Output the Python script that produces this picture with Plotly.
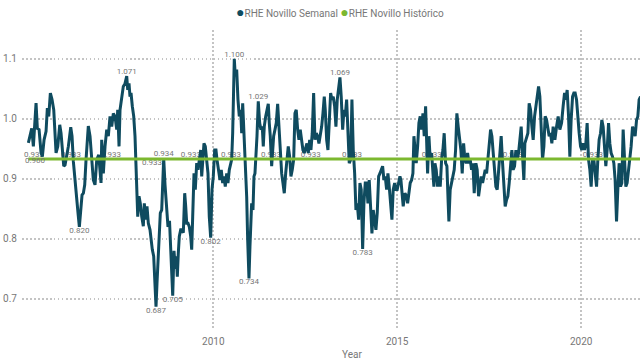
import plotly.graph_objects as go

# ---- data ----
years = [
    2004.973, 2005.065, 2005.109, 2005.182, 2005.217, 2005.264, 2005.318, 2005.353, 2005.400, 2005.454,
    2005.489, 2005.527, 2005.571, 2005.617, 2005.663, 2005.698, 2005.726, 2005.772, 2005.826, 2005.861,
    2005.897, 2005.935, 2005.970, 2006.016, 2006.060, 2006.125, 2006.160, 2006.196, 2006.242, 2006.288,
    2006.323, 2006.359, 2006.397, 2006.432, 2006.468, 2006.505, 2006.541, 2006.603, 2006.649, 2006.696,
    2006.739, 2006.785, 2006.832, 2006.886, 2006.921,
    2006.948, 2006.967, 2007.011, 2007.057, 2007.103, 2007.147, 2007.193, 2007.239, 2007.283, 2007.329,
    2007.375, 2007.402, 2007.438, 2007.465, 2007.511, 2007.554, 2007.601, 2007.647, 2007.674, 2007.709,
    2007.736, 2007.764, 2007.799, 2007.837, 2007.872, 2007.899, 2007.927, 2007.946, 2007.981, 2008.016,
    2008.055, 2008.098, 2008.125, 2008.163, 2008.198, 2008.234, 2008.280, 2008.307, 2008.342, 2008.380,
    2008.416, 2008.443, 2008.470, 2008.505, 2008.533, 2008.560, 2008.598, 2008.625, 2008.652, 2008.688,
    2008.728, 2008.769, 2008.810, 2008.851, 2008.897, 2008.932, 2008.967, 2008.995, 2009.022, 2009.049,
    2009.076, 2009.114, 2009.149, 2009.185, 2009.223, 2009.250, 2009.277, 2009.313, 2009.348, 2009.386,
    2009.413, 2009.440, 2009.476, 2009.511, 2009.549, 2009.584, 2009.620, 2009.658, 2009.685, 2009.712,
    2009.747, 2009.783, 2009.821, 2009.856, 2009.891, 2009.929, 2009.965, 2010.000, 2010.038, 2010.073,
    2010.101, 2010.128, 2010.155, 2010.182, 2010.217, 2010.255, 2010.291, 2010.326, 2010.364, 2010.399,
    2010.435, 2010.473, 2010.500, 2010.527, 2010.543, 2010.571, 2010.598, 2010.636, 2010.671, 2010.707,
    2010.745, 2010.772, 2010.799, 2010.834, 2010.870, 2010.908, 2010.935, 2010.970, 2010.997, 2011.025,
    2011.043, 2011.079, 2011.106, 2011.133, 2011.160, 2011.188, 2011.223, 2011.261, 2011.296, 2011.332,
    2011.359, 2011.386, 2011.424, 2011.459, 2011.495, 2011.522, 2011.549, 2011.587, 2011.614, 2011.641,
    2011.677, 2011.712, 2011.750, 2011.785, 2011.821, 2011.859, 2011.894, 2011.930, 2011.968, 2012.003,
    2012.038, 2012.076, 2012.111, 2012.147, 2012.185, 2012.220, 2012.255, 2012.293, 2012.329, 2012.364,
    2012.402, 2012.437, 2012.473, 2012.511, 2012.546, 2012.582, 2012.620, 2012.655, 2012.690, 2012.728,
    2012.764, 2012.799, 2012.837, 2012.872, 2012.908, 2012.946, 2012.981, 2013.017, 2013.044, 2013.082,
    2013.117, 2013.152, 2013.190, 2013.226, 2013.261, 2013.299, 2013.334, 2013.370, 2013.408, 2013.443,
    2013.478, 2013.517, 2013.552, 2013.587, 2013.625, 2013.661, 2013.696, 2013.734, 2013.769, 2013.805,
    2013.843, 2013.878, 2013.913, 2013.951, 2013.987, 2014.022, 2014.060, 2014.095, 2014.131, 2014.169,
    2014.204, 2014.239, 2014.277, 2014.313, 2014.348, 2014.386, 2014.421, 2014.457, 2014.495, 2014.530,
    2014.565, 2014.603, 2014.639, 2014.674, 2014.712, 2014.747, 2014.783, 2014.821, 2014.856, 2014.891,
    2014.930, 2014.965, 2015.000, 2015.038, 2015.074, 2015.101, 2015.136, 2015.163, 2015.209, 2015.256,
    2015.283, 2015.318, 2015.353, 2015.392, 2015.427, 2015.454, 2015.481, 2015.517, 2015.555, 2015.590,
    2015.625, 2015.663, 2015.699, 2015.734, 2015.772, 2015.807, 2015.826, 2015.862, 2015.897, 2015.935,
    2015.970, 2015.997, 2016.025, 2016.060, 2016.098, 2016.133, 2016.169, 2016.207, 2016.242, 2016.277,
    2016.315, 2016.351, 2016.386, 2016.405, 2016.440, 2016.478, 2016.514, 2016.549, 2016.587, 2016.622,
    2016.658, 2016.696, 2016.731, 2016.767, 2016.805, 2016.840, 2016.875, 2016.913, 2016.949, 2016.984,
    2017.022, 2017.057, 2017.093, 2017.139, 2017.174, 2017.212, 2017.247, 2017.283, 2017.321, 2017.356,
    2017.392, 2017.430, 2017.465, 2017.500, 2017.538, 2017.574, 2017.609, 2017.647, 2017.682, 2017.718,
    2017.756, 2017.791, 2017.826, 2017.864, 2017.900, 2017.935, 2017.973, 2018.008, 2018.044, 2018.082,
    2018.117, 2018.152, 2018.190, 2018.226, 2018.261, 2018.299, 2018.334, 2018.370, 2018.408, 2018.443,
    2018.470, 2018.516, 2018.552, 2018.587, 2018.625, 2018.661, 2018.696, 2018.734, 2018.769, 2018.805,
    2018.843, 2018.878, 2018.913, 2018.951, 2018.987, 2019.022, 2019.060, 2019.095, 2019.131, 2019.169,
    2019.204, 2019.239, 2019.286, 2019.332, 2019.375, 2019.421, 2019.468, 2019.511, 2019.549, 2019.584,
    2019.620, 2019.658, 2019.693, 2019.728, 2019.767, 2019.802, 2019.837, 2019.875, 2019.911, 2019.946,
    2019.984, 2020.019, 2020.055, 2020.093, 2020.128, 2020.163, 2020.201, 2020.237, 2020.272, 2020.310,
    2020.345, 2020.381, 2020.419, 2020.454, 2020.489, 2020.527, 2020.563, 2020.598, 2020.636, 2020.671,
    2020.707, 2020.745, 2020.780, 2020.815, 2020.853, 2020.889, 2020.924, 2020.962, 2020.997, 2021.033,
    2021.071, 2021.106, 2021.142, 2021.180, 2021.215, 2021.250, 2021.288, 2021.324, 2021.359, 2021.397,
    2021.432, 2021.468, 2021.506, 2021.541, 2021.576, 2021.614,
]

semanal = [
    0.960, 0.984, 0.954, 1.026, 0.984, 0.982, 0.943, 0.937, 0.965, 0.979,
    1.018, 1.004, 1.043, 1.032, 1.015, 0.982, 0.943, 0.954, 0.990, 0.976,
    0.943, 0.921, 0.923, 0.937, 0.954, 0.986, 0.971, 0.929, 0.901, 0.876,
    0.843, 0.820, 0.854, 0.873, 0.876, 0.890, 0.932, 0.988, 0.971, 0.926,
    0.898, 0.890, 0.932, 0.940, 0.909,
    0.893, 0.965, 0.909, 0.954, 0.982, 0.971, 1.004, 0.987, 1.009, 1.004,
    0.982, 1.015, 0.954, 1.015, 1.032, 1.054, 1.059, 1.071, 1.048, 1.059,
    1.037, 1.043, 1.021, 1.004, 0.971, 0.932, 0.882, 0.837, 0.871, 0.859,
    0.837, 0.821, 0.859, 0.832, 0.854, 0.826, 0.815, 0.798, 0.782, 0.771,
    0.726, 0.687, 0.726, 0.771, 0.821, 0.843, 0.848, 0.893, 0.934, 0.890,
    0.845, 0.820, 0.830, 0.780, 0.705, 0.780, 0.750, 0.771, 0.737, 0.776,
    0.804, 0.815, 0.815, 0.810, 0.876, 0.854, 0.826, 0.826, 0.820, 0.804,
    0.782, 0.837, 0.909, 0.882, 0.926, 0.915, 0.932, 0.948, 0.904, 0.926,
    0.959, 0.954, 0.932, 0.909, 0.837, 0.802, 0.882, 0.904, 0.948, 0.948,
    0.932, 0.921, 0.915, 0.898, 0.915, 0.893, 0.904, 0.887, 0.909, 0.893,
    0.915, 0.926, 0.932, 0.976, 1.043, 1.100, 1.071, 1.082, 1.032, 1.004,
    1.015, 0.976, 1.026, 0.976, 0.948, 0.870, 0.798, 0.734, 0.787, 0.837,
    0.859, 0.848, 0.904, 0.909, 0.937, 0.971, 1.029, 0.993, 0.982, 0.987,
    0.954, 0.987, 1.004, 1.015, 1.025, 0.993, 0.971, 0.921, 0.959, 0.971,
    0.982, 0.993, 1.025, 0.982, 0.937, 0.909, 0.893, 0.876, 0.909, 0.932,
    0.954, 0.937, 0.904, 0.915, 0.932, 1.009, 1.015, 0.982, 0.965, 0.982,
    0.959, 0.948, 0.943, 0.954, 0.959, 0.943, 0.965, 0.948, 0.976, 1.043,
    0.965, 0.976, 0.971, 0.959, 0.971, 0.987, 1.009, 1.037, 1.015, 0.965,
    0.948, 1.004, 1.043, 1.032, 1.037, 1.021, 0.987, 1.032, 1.048, 1.069,
    1.037, 0.982, 1.015, 1.004, 1.032, 0.987, 0.926, 0.932, 1.032, 0.948,
    0.909, 0.848, 0.859, 0.832, 0.893, 0.882, 0.783, 0.859, 0.893, 0.893,
    0.859, 0.898, 0.854, 0.809, 0.848, 0.826, 0.815, 0.843, 0.904, 0.909,
    0.915, 0.921, 0.898, 0.904, 0.882, 0.909, 0.887, 0.854, 0.832, 0.882,
    0.893, 0.882, 0.882, 0.893, 0.904, 0.898, 0.871, 0.854, 0.876, 0.871,
    0.859, 0.876, 0.893, 0.898, 0.909, 0.971, 0.948, 0.926, 0.954, 0.993,
    1.004, 0.982, 1.009, 0.971, 1.021, 0.959, 0.909, 0.971, 0.932, 0.943,
    0.915, 0.887, 0.926, 0.915, 0.887, 0.904, 0.887, 0.932, 0.948, 0.976,
    0.926, 0.921, 0.859, 0.829, 0.882, 0.893, 0.904, 0.915, 0.948, 1.009,
    0.987, 0.965, 0.948, 0.909, 0.959, 0.932, 0.926, 0.943, 0.926, 0.932,
    0.915, 0.926, 0.876, 0.926, 0.915, 0.871, 0.887, 0.904, 0.893, 0.904,
    0.915, 0.909, 0.932, 0.948, 0.982, 0.971, 0.943, 0.915, 0.887, 0.882,
    0.915, 0.948, 0.971, 0.926, 0.887, 0.854, 0.865, 0.871, 0.893, 0.926,
    0.948, 0.915, 0.921, 0.948, 0.932, 0.943, 0.971, 0.987, 0.937, 0.898,
    0.959, 0.971, 0.976, 1.026, 1.015, 0.987, 0.965, 1.004, 1.021, 1.043,
    1.054, 1.037, 0.976, 0.932, 0.954, 1.004, 0.998, 0.982, 0.971, 0.976,
    0.959, 0.987, 0.965, 0.987, 1.004, 0.982, 0.993, 1.021, 1.043, 1.032,
    1.048, 1.004, 0.937, 0.998, 1.037, 1.043, 1.043, 1.032, 0.993, 0.976,
    0.954, 0.948, 0.959, 0.948, 0.959, 0.993, 0.932, 0.915, 0.887, 0.932,
    0.932, 0.904, 0.887, 0.932, 0.965, 0.976, 0.998, 0.987, 0.959, 0.921,
    0.948, 0.993, 0.959, 0.943, 0.937, 0.926, 0.898, 0.829, 0.882, 0.926,
    0.887, 0.893, 0.982, 0.937, 0.887, 0.893, 0.915, 0.926, 0.954, 0.987,
    0.976, 0.971, 0.998, 1.004, 1.032, 1.037,
]

historico_value = 0.933

# points of the weekly series that carry a data label, and where the label sits
semanal_label_years = [2006.359, 2007.647, 2008.443, 2008.652, 2008.897,
                       2009.929, 2010.571, 2010.970, 2011.223, 2013.443, 2014.060]
semanal_label_side = ["bottom center", "top center", "bottom center",
                      "top center", "bottom center", "bottom center", "top center",
                      "bottom center", "top center", "top center", "bottom center"]
# points of the historic series that carry a data label
historico_label_years = [2005.128, 2006.130, 2007.220, 2009.390, 2010.480, 2011.570,
                         2012.650, 2013.770, 2015.940, 2018.140, 2020.320]
historico_label_below_years = [2008.334]

x_ticks = [2010, 2015, 2020]
y_ticks = [0.7, 0.8, 0.9, 1.0, 1.1]
y_ticktext = ["0.7", "0.8", "0.9", "1.0", "1.1"]

# ---- styling ----
BLUE = "#0F4B5F"
GREEN = "#7CB82F"
TXT = "#777777"
GRID = "#C4C4C4"
FONT = "Roboto"

fig = go.Figure()

# data labels first, so that the lines are drawn over them
lab_vals = [semanal[years.index(y)] for y in semanal_label_years]
fig.add_trace(go.Scatter(
    x=semanal_label_years, y=lab_vals, mode="text",
    text=[f"{v:.3f}" for v in lab_vals], textposition=semanal_label_side,
    textfont=dict(family=FONT, size=8, color=TXT), showlegend=False, hoverinfo="skip"))
fig.add_trace(go.Scatter(
    x=historico_label_years, y=[historico_value] * len(historico_label_years), mode="text",
    text=[f"{historico_value:.3f}"] * len(historico_label_years), textposition="top center",
    textfont=dict(family=FONT, size=8, color=TXT), showlegend=False, hoverinfo="skip"))
fig.add_trace(go.Scatter(
    x=historico_label_below_years, y=[historico_value] * len(historico_label_below_years),
    mode="text", text=[f"{historico_value:.3f}"] * len(historico_label_below_years),
    textposition="bottom center",
    textfont=dict(family=FONT, size=8, color=TXT), showlegend=False, hoverinfo="skip"))

fig.add_trace(go.Scatter(
    x=years, y=semanal, mode="lines", name="RHE Novillo Semanal",
    line=dict(color=BLUE, width=3), showlegend=False))
fig.add_trace(go.Scatter(
    x=[years[0], years[-1]], y=[historico_value, historico_value], mode="lines",
    name="RHE Novillo Histórico", line=dict(color=GREEN, width=2.8), showlegend=False))

axis_common = dict(showgrid=True, gridcolor=GRID, griddash="1.5px,2.5px", gridwidth=1.5,
                   zeroline=False, showline=False, ticks="", automargin=False,
                   ticklabelstandoff=4,
                   tickfont=dict(family=FONT, size=10, color=TXT))

fig.update_layout(
    width=640, height=364,
    margin=dict(l=22, r=0, t=30, b=34),
    paper_bgcolor="white", plot_bgcolor="white",
    font=dict(family=FONT, size=10, color=TXT),
    xaxis=dict(range=[2004.80, 2021.60], tickvals=x_ticks, ticktext=[str(t) for t in x_ticks],
               **axis_common),
    yaxis=dict(range=[0.648, 1.148], tickvals=y_ticks, ticktext=y_ticktext,
               **axis_common),
    annotations=[
        dict(xref="paper", yref="paper", x=0.5146, y=1.06, showarrow=False,
             xanchor="center", yanchor="middle",
             text=(f'<span style="color:{BLUE};font-size:14px">●</span>RHE Novillo Semanal '
                   f'<span style="color:{GREEN};font-size:14px">●</span>RHE Novillo Histórico'),
             font=dict(family=FONT, size=10, color=TXT)),
        dict(xref="paper", yref="paper", x=0.534, y=-0.08, showarrow=False,
             xanchor="center", yanchor="middle", text="Year",
             font=dict(family=FONT, size=10, color=TXT)),
        # label of the first weekly point
        dict(x=years[0], y=semanal[0], xref="x", yref="y", showarrow=False,
             text=f"{semanal[0]:.3f}", xshift=7, yshift=-18,
             font=dict(family=FONT, size=8, color=TXT)),
    ],
)

fig.write_html("out.html", config={"displayModeBar": False},
               post_script="document.body.style.margin='0';document.body.style.overflow='hidden';")
